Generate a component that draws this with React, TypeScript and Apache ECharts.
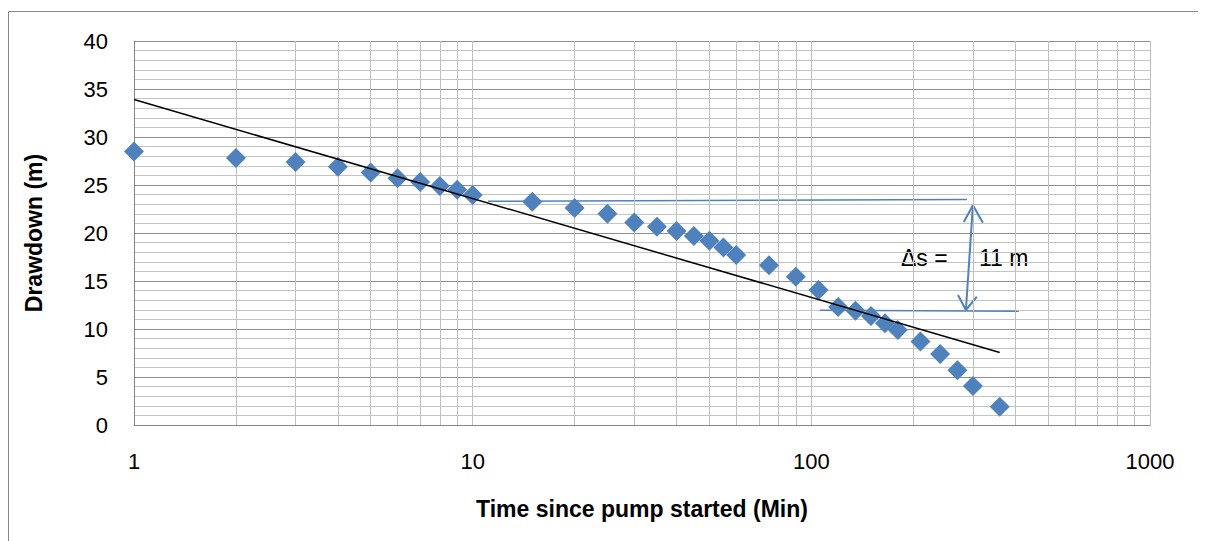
import React, { useEffect, useRef } from "react";
import * as echarts from "echarts";

const timeMin = [1, 2, 3, 4, 5, 6, 7, 8, 9, 10, 15, 20, 25, 30, 35, 40, 45, 50, 55, 60, 75, 90, 105, 120, 135, 150, 165, 180, 210, 240, 270, 300, 360];
const drawdown = [28.5, 27.8, 27.4, 26.9, 26.3, 25.7, 25.3, 24.9, 24.5, 23.95, 23.25, 22.6, 22.0, 21.1, 20.65, 20.2, 19.7, 19.2, 18.5, 17.7, 16.65, 15.45, 14.05, 12.3, 11.9, 11.35, 10.6, 9.9, 8.7, 7.4, 5.7, 4.05, 1.9];

const trendLine = [[1, 33.9], [360, 7.55]];
const upperRef = [[11.1, 23.3], [288, 23.5]];
const lowerRef = [[106, 11.95], [410, 11.85]];
const arrowShaft = [[300, 22.9], [286, 11.98]];
const arrowTop = [[282, 21.15], [300, 22.9], [321, 21.07]];
const arrowBottom = [[271, 13.54], [286, 11.98], [308, 13.36]];
const minorLogLines = [2, 3, 4, 5, 6, 7, 8, 9, 20, 30, 40, 50, 60, 70, 80, 90, 200, 300, 400, 500, 600, 700, 800, 900];

const FONT = "'Liberation Sans', Arial, sans-serif";
const BLUE = "#4f81bd";

export default function App() {
  const ref = useRef<HTMLDivElement>(null);
  useEffect(() => {
    if (!ref.current) return;
    const chart = echarts.init(ref.current, null, { renderer: "svg" });
    const blueLine = (data: number[][], width: number) => ({
      type: "line",
      data,
      symbol: "none",
      silent: true,
      z: 3,
      lineStyle: { color: BLUE, width },
    });
    chart.setOption({
      animation: false,
      grid: { left: 126, right: 56, top: 33, bottom: 116, containLabel: false },
      xAxis: {
        type: "log",
        logBase: 10,
        min: 1,
        max: 1000,
        name: "Time since pump started (Min)",
        nameLocation: "middle",
        nameGap: 72,
        nameTextStyle: { fontFamily: FONT, fontSize: 23, fontWeight: "bold", color: "#000" },
        axisLine: { show: true, lineStyle: { color: "#868686", width: 1 } },
        axisTick: { show: false },
        axisLabel: { fontFamily: FONT, fontSize: 22, color: "#000", margin: 25, formatter: (v: number) => String(v) },
        splitLine: { show: true, lineStyle: { color: "#bfbfbf", width: 1 } },
      },
      yAxis: {
        type: "value",
        min: 0,
        max: 40,
        interval: 5,
        name: "Drawdown (m)",
        nameLocation: "middle",
        nameRotate: 90,
        nameGap: 89,
        nameTextStyle: { fontFamily: FONT, fontSize: 23, fontWeight: "bold", color: "#000" },
        axisLine: { show: true, lineStyle: { color: "#868686", width: 1 } },
        axisTick: { show: false },
        axisLabel: { fontFamily: FONT, fontSize: 22, color: "#000", margin: 26 },
        splitLine: { show: true, lineStyle: { color: "#8e8e8e", width: 1 } },
        minorTick: { show: false, splitNumber: 5 },
        minorSplitLine: { show: true, lineStyle: { color: "#c4c4c4", width: 1 } },
      },
      graphic: [
        {
          type: "rect",
          shape: { x: 0.5, y: 3.5, width: 1196, height: 600 },
          style: { fill: "none", stroke: "#898989", lineWidth: 1 },
          silent: true,
        },
        {
          type: "text",
          x: 893,
          y: 250,
          style: { text: "Δs =", fontFamily: FONT, fontSize: 23, fill: "#000", verticalAlign: "middle" },
        },
        {
          type: "text",
          x: 971,
          y: 250,
          style: { text: "11 m", fontFamily: FONT, fontSize: 23, fill: "#000", verticalAlign: "middle" },
        },
      ],
      series: [
        {
          type: "line",
          data: [],
          silent: true,
          z: 0,
          markLine: {
            silent: true,
            symbol: "none",
            label: { show: false },
            lineStyle: { color: "#bfbfbf", width: 1, type: "solid" },
            data: minorLogLines.map((v) => ({ xAxis: v })),
          },
        },
        blueLine(upperRef, 1.5),
        blueLine(lowerRef, 1.5),
        blueLine(arrowShaft, 2),
        blueLine(arrowTop, 2),
        blueLine(arrowBottom, 2),
        {
          type: "scatter",
          data: timeMin.map((t, i) => [t, drawdown[i]]),
          symbol: "diamond",
          symbolSize: [20, 20],
          itemStyle: { color: BLUE, opacity: 1 },
          z: 5,
        },
        {
          type: "line",
          data: trendLine,
          symbol: "none",
          z: 6,
          lineStyle: { color: "#000", width: 1.5 },
        },
      ],
    });
    return () => chart.dispose();
  }, []);
  return <div ref={ref} style={{ width: 1198, height: 533 }} />;
}
